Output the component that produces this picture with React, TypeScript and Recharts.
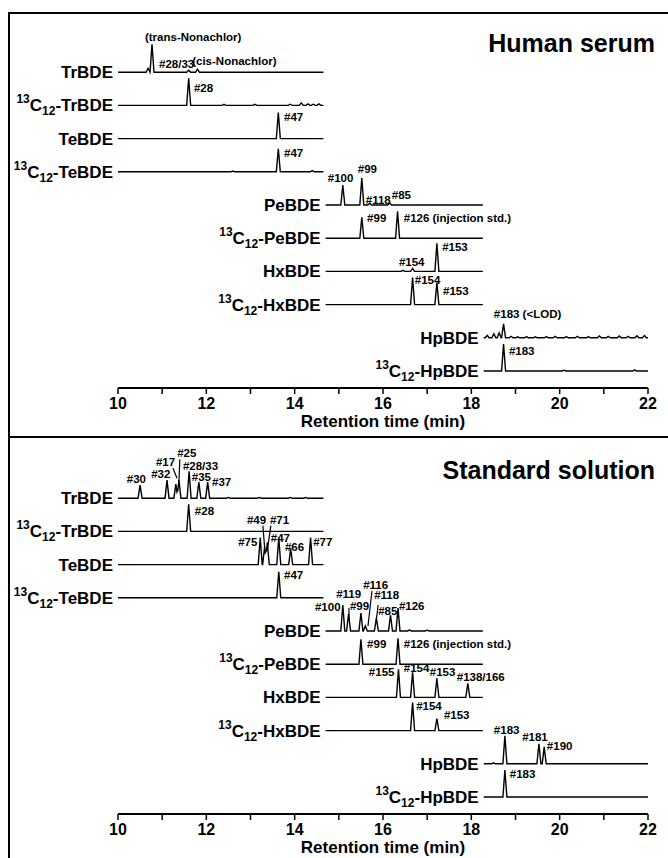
import React from 'react';
import { LineChart, Line, XAxis, YAxis, ReferenceDot, ReferenceLine } from 'recharts';

const FONT = '"Liberation Sans", Arial, Helvetica, sans-serif';

const xTicks = [10, 11, 12, 13, 14, 15, 16, 17, 18, 19, 20, 21, 22];

const traceNames = [
  'TrBDE', '13C12-TrBDE', 'TeBDE', '13C12-TeBDE', 'PeBDE',
  '13C12-PeBDE', 'HxBDE', '13C12-HxBDE', 'HpBDE', '13C12-HpBDE',
];

// retention-time window recorded for each trace (min)
const traceRanges = [
  [10, 14.65], [10, 14.65], [10, 14.65], [10, 14.65],
  [14.7, 18.26], [14.7, 18.26], [14.7, 18.26], [14.7, 18.26],
  [18.28, 22], [18.28, 22],
];

// peaks: [retention time, intensity]
const serumPeaks = [
  [[10.68, 4], [10.77, 28], [11.6, 2], [11.8, 3]],
  [[11.6, 27], [12.4, 1], [13.1, 1], [13.9, 1.2], [14.15, 2.5], [14.3, 1.5], [14.42, 1.2], [14.55, 1.5]],
  [[13.63, 26]],
  [[12.6, 0.8], [13.63, 23], [14.4, 1.2]],
  [[15.09, 20], [15.52, 27], [15.7, 1.5], [16.15, 2]],
  [[15.52, 21], [16.33, 27]],
  [[16.45, 1], [16.67, 3], [17.22, 28]],
  [[16.67, 27], [17.22, 22]],
  [[18.36, 2.5], [18.51, 4], [18.63, 5], [18.73, 14], [18.9, 1.5], [19.05, 1], [19.25, 1.2], [19.45, 1],
    [19.7, 1.2], [19.9, 1.5], [20.15, 1.2], [20.4, 1.5], [20.65, 1.2], [20.9, 1.8], [21.1, 1.5],
    [21.35, 1.8], [21.55, 1.5], [21.75, 2], [21.92, 2.2]],
  [[18.73, 27], [20.1, 0.8], [21.7, 1.2]],
];

const stdPeaks = [
  [[10.5, 13], [11.11, 18], [11.31, 14], [11.38, 18], [11.61, 27], [11.83, 16], [12.03, 16],
    [12.5, 0.8], [13.2, 0.8], [13.9, 0.8], [14.25, 0.8]],
  [[11.6, 27]],
  [[13.22, 27], [13.32, 18], [13.38, 22], [13.64, 27], [13.91, 16], [14.36, 27]],
  [[13.64, 26]],
  [[15.09, 26], [15.22, 17], [15.5, 18], [15.6, 5], [15.85, 13], [16.17, 16], [16.34, 23], [16.6, 1], [17.0, 0.8]],
  [[15.5, 25], [16.34, 26]],
  [[16.35, 28], [16.67, 25], [17.22, 19], [17.92, 14]],
  [[16.67, 28], [17.22, 12]],
  [[18.5, 1], [18.76, 28], [19.53, 20], [19.65, 17]],
  [[18.76, 27]],
];

// peak labels: [text, retention time of left edge, level above baseline]
const serumLabels = [
  [['(trans-Nonachlor)', 10.61, 35], ['#28/33', 10.93, 8], ['(cis-Nonachlor)', 11.68, 11]],
  [['#28', 11.72, 17]],
  [['#47', 13.76, 22]],
  [['#47', 13.76, 19]],
  [['#100', 14.75, 27], ['#99', 15.43, 36], ['#118', 15.61, 5], ['#85', 16.2, 10]],
  [['#99', 15.64, 20], ['#126 (injection std.)', 16.47, 20]],
  [['#154', 16.36, 9], ['#153', 17.34, 24]],
  [['#154', 16.72, 25], ['#153', 17.36, 14]],
  [['#183 (<LOD)', 18.51, 24]],
  [['#183', 18.85, 20]],
];

const stdLabels = [
  [['#30', 10.2, 19], ['#32', 10.75, 24], ['#17', 10.86, 36], ['#25', 11.34, 45], ['#28/33', 11.47, 32],
    ['#35', 11.67, 21], ['#37', 12.13, 16]],
  [['#28', 11.74, 20]],
  [['#49', 12.92, 45], ['#71', 13.44, 45], ['#75', 12.72, 23], ['#47', 13.46, 27], ['#66', 13.78, 18], ['#77', 14.42, 23]],
  [['#47', 13.76, 23]],
  [['#100', 14.46, 24], ['#119', 14.94, 37], ['#99', 15.25, 25], ['#116', 15.55, 46], ['#118', 15.8, 36],
    ['#85', 15.89, 20], ['#126', 16.36, 25]],
  [['#99', 15.64, 20], ['#126 (injection std.)', 16.47, 20]],
  [['#155', 15.68, 25], ['#154', 16.47, 29], ['#153', 17.06, 25], ['#138/166', 17.67, 20]],
  [['#154', 16.75, 25], ['#153', 17.38, 16]],
  [['#183', 18.51, 34], ['#181', 19.15, 27], ['#190', 19.71, 18]],
  [['#183', 18.87, 23]],
];

// leader lines: [trace index, t1, level1, t2, level2]
const serumLeaders: number[][] = [];
const stdLeaders = [
  [0, 11.245, 30, 11.336, 20],
  [0, 11.4, 39, 11.38, 17],
  [2, 13.28, 39, 13.32, 17],
  [2, 13.46, 39, 13.39, 17],
  [4, 15.23, 23, 15.23, 12],
  [4, 15.75, 40, 15.66, 5],
  [4, 15.89, 26, 15.85, 12],
];

const PLOT_H = 375;
const BASE_GAP = 17;
const TRACE_STEP = 33.2;
const HALF_WIDTH = 0.045;

const offsetOf = (i: number) => BASE_GAP + (traceNames.length - 1 - i) * TRACE_STEP;

function buildTrace(range: number[], peaks: number[][], offset: number) {
  const [start, end] = range;
  const ts = [start, end];
  peaks.forEach(([t]) => ts.push(t - HALF_WIDTH, t, t + HALF_WIDTH));
  const uniq = Array.from(new Set(ts.filter((t) => t >= start && t <= end))).sort((a, b) => a - b);
  return uniq.map((t) => {
    let s = 0;
    peaks.forEach(([pt, h]) => {
      const d = Math.abs(t - pt);
      if (d < HALF_WIDTH) s = Math.max(s, h * (1 - d / HALF_WIDTH));
    });
    return { t, v: offset + s };
  });
}

function TraceName({ cx, cy, name }: { cx: number; cy: number; name: string }) {
  const iso = name.startsWith('13C12-');
  const rest = iso ? name.slice(6) : name;
  return (
    <text x={cx - 5} y={cy + 6} textAnchor="end" fontFamily={FONT} fontWeight="bold" fontSize={17} fill="#000">
      {iso ? (
        <>
          <tspan fontSize={12} dy={-8}>13</tspan>
          <tspan dy={8}>C</tspan>
          <tspan fontSize={12} dy={4}>12</tspan>
          <tspan dy={-4}>{'-' + rest}</tspan>
        </>
      ) : rest}
    </text>
  );
}

function Panel({ top, height, peaks, labels, leaders }: any) {
  return (
    <div style={{ position: 'absolute', left: 0, top }}>
      <LineChart width={668} height={height} margin={{ top: 0, right: 20, bottom: 0, left: 118 }}>
        <XAxis
          type="number"
          dataKey="t"
          domain={[10, 22]}
          ticks={xTicks}
          interval={0}
          allowDataOverflow
          height={height - PLOT_H}
          tickFormatter={(v: number) => (v % 2 === 0 ? String(v) : '')}
          axisLine={{ stroke: '#000', strokeWidth: 2 }}
          tickLine={{ stroke: '#000', strokeWidth: 1.5 }}
          tickSize={6}
          tickMargin={4}
          tick={{ fill: '#000', fontSize: 16, fontWeight: 'bold', fontFamily: FONT }}
          label={{
            value: 'Retention time (min)',
            position: 'insideBottom',
            offset: height - PLOT_H - 39,
            fill: '#000',
            fontSize: 17,
            fontWeight: 'bold',
            fontFamily: FONT,
          }}
        />
        <YAxis type="number" domain={[0, PLOT_H]} hide />
        {traceNames.map((name, i) => (
          <Line
            key={name}
            data={buildTrace(traceRanges[i], peaks[i], offsetOf(i))}
            dataKey="v"
            type="linear"
            stroke="#000"
            strokeWidth={1.4}
            dot={false}
            activeDot={false}
            isAnimationActive={false}
          />
        ))}
        {traceNames.map((name, i) => (
          <ReferenceDot
            key={'name-' + i}
            x={traceRanges[i][0]}
            y={offsetOf(i)}
            r={1}
            shape={(p: any) => <TraceName cx={p.cx} cy={p.cy} name={name} />}
          />
        ))}
        {labels.flatMap((list: any[], i: number) =>
          list.map(([text, t, lv]: any, j: number) => (
            <ReferenceDot
              key={'lab-' + i + '-' + j}
              x={t}
              y={offsetOf(i) + lv}
              r={1}
              shape={(p: any) => (
                <text x={p.cx} y={p.cy + 4} fontFamily={FONT} fontWeight="bold" fontSize={11.5} fill="#000">
                  {text}
                </text>
              )}
            />
          ))
        )}
        {leaders.map(([i, t1, l1, t2, l2]: number[], k: number) => (
          <ReferenceLine
            key={'lead-' + k}
            segment={[{ x: t1, y: offsetOf(i) + l1 }, { x: t2, y: offsetOf(i) + l2 }]}
            stroke="#000"
            strokeWidth={1.2}
          />
        ))}
      </LineChart>
    </div>
  );
}

const titleStyle: React.CSSProperties = {
  position: 'absolute',
  right: 13,
  fontFamily: FONT,
  fontWeight: 'bold',
  fontSize: 25,
  lineHeight: '28px',
  color: '#000',
  whiteSpace: 'nowrap',
};

export default function App() {
  return (
    <div style={{ position: 'absolute', left: 0, top: 0, width: 668, height: 858, overflow: 'hidden', background: '#fff' }}>
      <div style={{ position: 'absolute', left: 8, top: 12, width: 660, height: 846, borderLeft: '2px solid #000', borderTop: '2px solid #000' }} />
      <div style={{ position: 'absolute', left: 8, top: 436, width: 660, height: 2, background: '#000' }} />
      <Panel top={13} height={424} peaks={serumPeaks} labels={serumLabels} leaders={serumLeaders} />
      <Panel top={439} height={419} peaks={stdPeaks} labels={stdLabels} leaders={stdLeaders} />
      <div style={{ ...titleStyle, top: 29 }}>Human serum</div>
      <div style={{ ...titleStyle, top: 456 }}>Standard solution</div>
    </div>
  );
}
